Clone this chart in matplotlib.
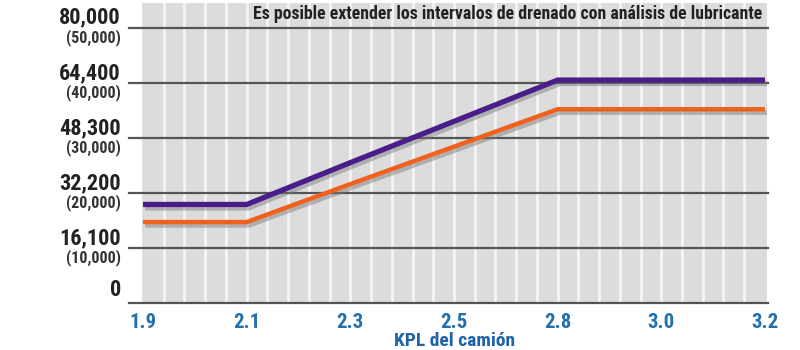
import matplotlib
matplotlib.use("Agg")
import matplotlib.pyplot as plt
import matplotlib.patheffects as pe
import matplotlib.transforms as mtrans

# ---- data ----
kpl_labels = ["1.9", "2.1", "2.3", "2.5", "2.8", "3.0", "3.2"]
# values expressed on the mile scale (axis shows km with miles in parentheses)
purple_values = [17900, 17900, 25500, 33000, 40500, 40500, 40500]
orange_values = [14700, 14700, 21600, 28400, 35200, 35200, 35200]
y_ticks_miles = [0, 10000, 20000, 30000, 40000, 50000]
y_labels_km = ["0", "16,100", "32,200", "48,300", "64,400", "80,000"]
y_labels_mi = ["", "(10,000)", "(20,000)", "(30,000)", "(40,000)", "(50,000)"]
title = "Es posible extender los intervalos de drenado con análisis de lubricante"
xlabel = "KPL del camión"

plt.rcParams["font.family"] = ["Roboto Condensed", "Liberation Sans", "DejaVu Sans"]

W, H = 800, 350
fig = plt.figure(figsize=(8, 3.5), dpi=100)
ax = fig.add_axes([142 / W, 1 - 303 / H, (767 - 142) / W, 300 / H])
ax.set_facecolor("#dcdcdc")
x = list(range(len(kpl_labels)))
ax.set_xlim(-0.01, 6.02)
ax.set_ylim(0, 54500)

# white vertical stripes
for k in range(1, 30):
    ax.axvline(k * 0.2, color="#f4f4f4", lw=2.0, zorder=1)

# horizontal gridlines extending to the left of the plot area
for v in y_ticks_miles:
    ax.axhline(v, xmin=-0.021, xmax=1.002, color="#555555", lw=1.6, clip_on=False, zorder=2)

shadow = [pe.SimpleLineShadow(offset=(1.5, -2.5), shadow_color="#777777", alpha=0.45), pe.Normal()]
ax.plot(x, orange_values, color="#f2601e", lw=3.2, solid_capstyle="butt", zorder=4, path_effects=shadow)
ax.plot(x, purple_values, color="#4a1e88", lw=3.8, solid_capstyle="butt", zorder=5, path_effects=shadow)

for s in ax.spines.values():
    s.set_visible(False)
ax.set_xticks([])
ax.set_yticks([])

# y labels
ytr = ax.get_yaxis_transform()
for v, km, mi in zip(y_ticks_miles, y_labels_km, y_labels_mi):
    off_big = mtrans.offset_copy(ytr, fig=fig, x=-21, y=10 if mi else 13, units="dots")
    ax.text(0, v, km, transform=off_big, ha="right", va="center", fontsize=16,
            fontweight="bold", color="#222222")
    if mi:
        off_small = mtrans.offset_copy(ytr, fig=fig, x=-21, y=-9.5, units="dots")
        ax.text(0, v, mi, transform=off_small, ha="right", va="center", fontsize=11.5,
                fontweight="bold", color="#333333")

# x tick labels
xtr = ax.get_xaxis_transform()
for xi, lab in zip(x, kpl_labels):
    off = mtrans.offset_copy(xtr, fig=fig, x=0, y=-20, units="dots")
    ax.text(xi, 0, lab, transform=off, ha="center", va="center", fontsize=15,
            fontweight="bold", color="#2470ad")

fig.text(455 / W, 1 - 341 / H, xlabel, ha="center", va="center", fontsize=14,
         fontweight="bold", color="#1f62a8")
fig.text(762 / W, 1 - 14 / H, title, ha="right", va="center", fontsize=12.8,
         fontweight="bold", color="#222222")

fig.savefig("out.png", dpi=100)
